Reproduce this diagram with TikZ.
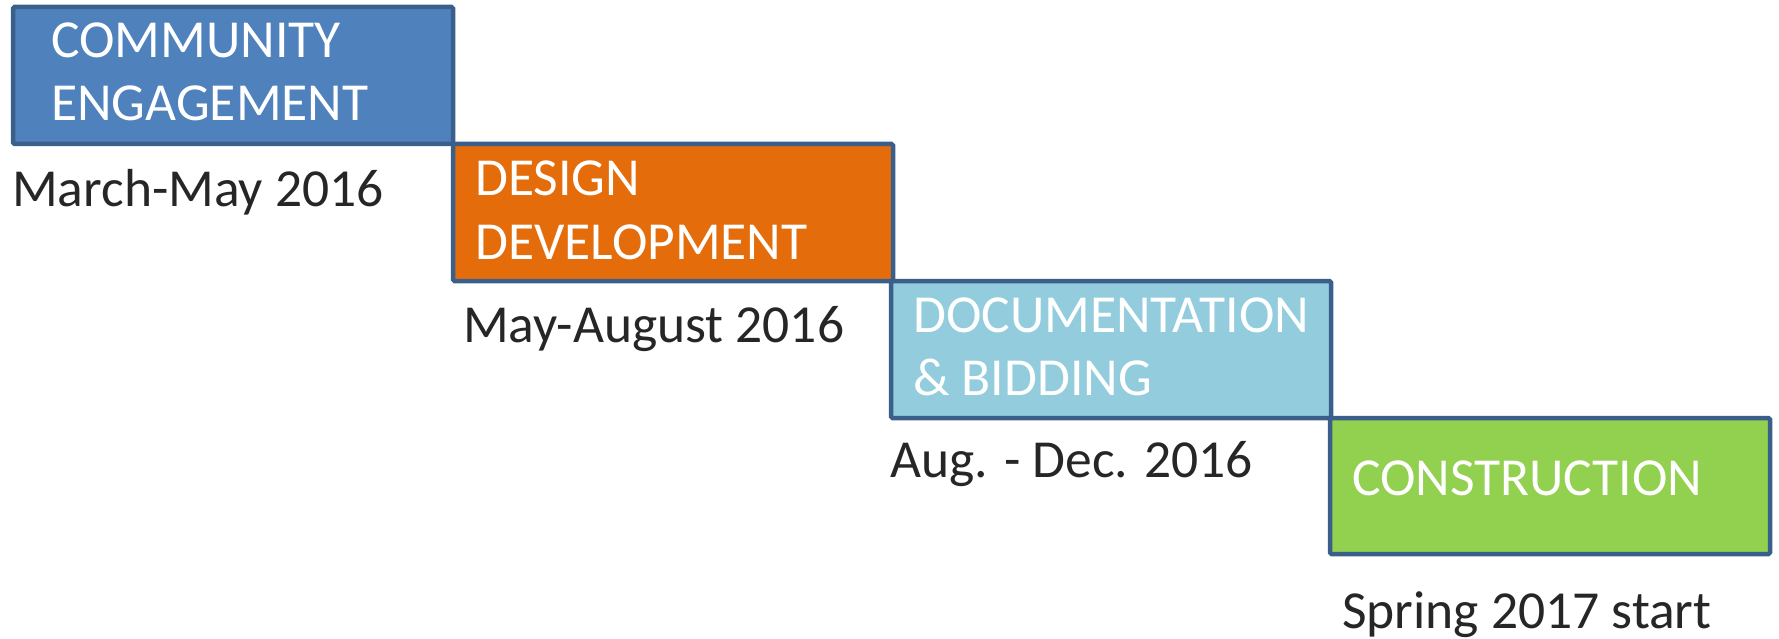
\documentclass[tikz,border=0pt]{standalone}
\usepackage{fontspec}
\setmainfont{Carlito}
\definecolor{borderc}{HTML}{3A5F8B}
\definecolor{c1}{HTML}{4F81BD}
\definecolor{c2}{HTML}{E46C0A}
\definecolor{c3}{HTML}{93CDDD}
\definecolor{c4}{HTML}{92D050}
\definecolor{txtc}{HTML}{262626}
\begin{document}
\begin{tikzpicture}[x=1pt,y=-1pt,
  phase/.style={draw=borderc, line width=4.5pt, rounded corners=1.5pt, anchor=north west,
    minimum width=440pt, minimum height=137pt, inner sep=0pt, outer sep=0pt},
  boxtext/.style={anchor=base west, inner sep=0pt, text=white, font=\fontsize{53.5}{64}\selectfont},
  datetext/.style={anchor=base west, inner sep=0pt, text=txtc, font=\fontsize{53.5}{64}\selectfont}]
\useasboundingbox (0,0) rectangle (1779,639);
\node[phase, fill=c1] (b1) at (13,7) {};
\node[phase, fill=c2] (b2) at (453,144) {};
\node[phase, fill=c3] (b3) at (891,281) {};
\node[phase, fill=c4, minimum height=136pt] (b4) at (1330,418) {};
\node[boxtext] (t1a) at (51,58) {COMMUNITY};
\node[boxtext] (t1b) at (51,121) {ENGAGEMENT};
\node[boxtext] (t2a) at (475,196) {DESIGN};
\node[boxtext] (t2b) at (475,259) {DEVELOPMENT};
\node[boxtext] (t3a) at (913,332) {DOCUMENTATION};
\node[boxtext] (t3b) at (913,395) {\& BIDDING};
\node[boxtext] (t4) at (1352,495) {CONSTRUCTION};
\node[datetext] (d1) at (12,207) {March-May 2016};
\node[datetext] (d2) at (463,342) {May-August 2016};
\node[datetext] (d3) at (890,477) {Aug. - Dec. 2016};
\node[datetext] (d4) at (1342,628) {Spring 2017 start};
\end{tikzpicture}
\end{document}
